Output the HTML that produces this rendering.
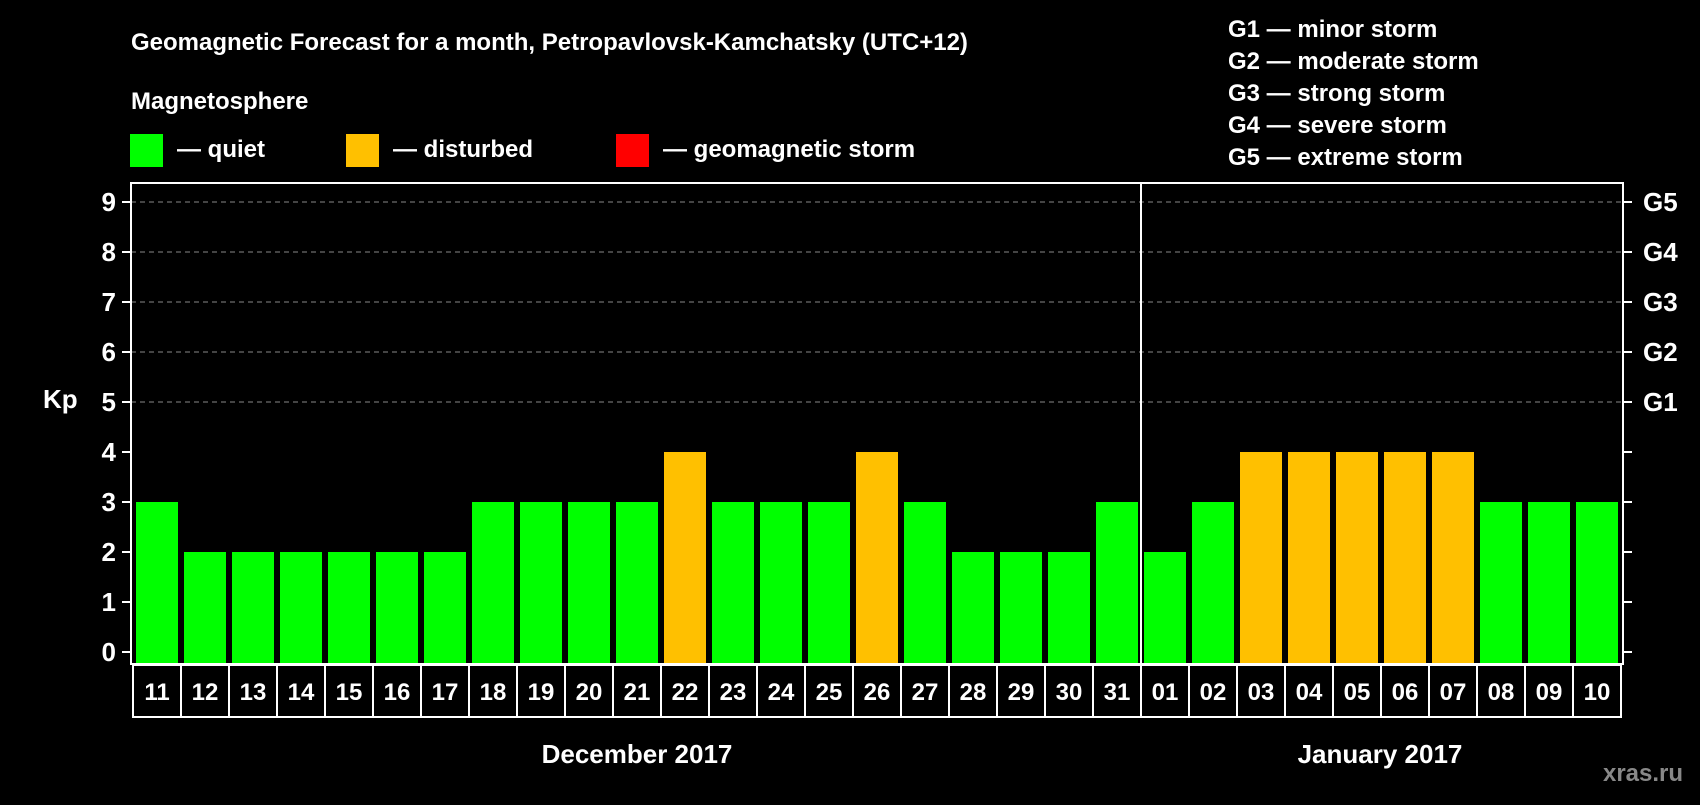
<!DOCTYPE html>
<html><head><meta charset="utf-8"><style>
body{margin:0;background:#000;width:1700px;height:800px;overflow:hidden}
svg text{font-family:"Liberation Sans",Arial,sans-serif;font-weight:bold;fill:#fff}
</style></head><body>
<svg id="c" width="1700" height="800">
<text x="131" y="50" font-size="24">Geomagnetic Forecast for a month, Petropavlovsk-Kamchatsky (UTC+12)</text>
<text x="131" y="109" font-size="24">Magnetosphere</text>
<g><rect x="130" y="134" width="33" height="33" fill="#00ff00"/><text x="177" y="157" font-size="24">— quiet</text></g>
<g><rect x="346" y="134" width="33" height="33" fill="#ffc000"/><text x="393" y="157" font-size="24">— disturbed</text></g>
<g><rect x="616" y="134" width="33" height="33" fill="#ff0000"/><text x="663" y="157" font-size="24">— geomagnetic storm</text></g>
<g font-size="24">
<text x="1228" y="37">G1 — minor storm</text>
<text x="1228" y="69">G2 — moderate storm</text>
<text x="1228" y="101">G3 — strong storm</text>
<text x="1228" y="133">G4 — severe storm</text>
<text x="1228" y="165">G5 — extreme storm</text>
</g>
<text x="43" y="408" font-size="26">Kp</text>
<g id="plot"></g>
<text x="637" y="763" font-size="26" text-anchor="middle">December 2017</text>
<text x="1380" y="763" font-size="26" text-anchor="middle">January 2017</text>
<text x="1643" y="781" font-size="24" text-anchor="middle" style="fill:#888">xras.ru</text>
</svg>
<script>
const days=["11","12","13","14","15","16","17","18","19","20","21","22","23","24","25","26","27","28","29","30","31","01","02","03","04","05","06","07","08","09","10"];
const kp=[3,2,2,2,2,2,2,3,3,3,3,4,3,3,3,4,3,2,2,2,3,2,3,4,4,4,4,4,3,3,3];
const yTicks=[0,1,2,3,4,5,6,7,8,9];
const gLabels=["G1","G2","G3","G4","G5"];
const gLevels=[5,6,7,8,9];
const NS="http://www.w3.org/2000/svg";
const g=document.getElementById('plot');
const L=131,R=1623,T=183,B=664,x0=133,slot=(1621-133)/days.length;
const y=v=>652-v*50;
const xs=i=>x0+i*slot;
function mk(t,a){const e=document.createElementNS(NS,t);for(const k in a)e.setAttribute(k,a[k]);g.appendChild(e);return e;}
gLevels.forEach(v=>{const e=mk('line',{x1:L,x2:R,y1:y(v),y2:y(v),stroke:'#888','stroke-dasharray':'5,4','stroke-width':1});

});
yTicks.forEach(v=>{
const t=mk('line',{x1:L-9,x2:L,y1:y(v),y2:y(v),stroke:'#fff','stroke-width':2});


const t2=mk('line',{x1:R,x2:R+9,y1:y(v),y2:y(v),stroke:'#fff','stroke-width':2});


const l=mk('text',{x:L-15,y:y(v)+9,'font-size':26,'text-anchor':'end'});l.textContent=v;

});
gLabels.forEach((s,i)=>{const l=mk('text',{x:R+20,y:y(gLevels[i])+9,'font-size':26});l.textContent=s;

});
kp.forEach((v,i)=>{const c=v>=5?'#ff0000':v>=4?'#ffc000':'#00ff00';
const b=mk('rect',{x:xs(i)+3,y:y(v),width:slot-6,height:y(0)+12-y(v),fill:c});


const cell=mk('rect',{x:xs(i),y:B+1,width:slot,height:52,fill:'none',stroke:'#fff','stroke-width':2});


const l=mk('text',{x:xs(i)+slot/2,y:B+36,'font-size':24,'text-anchor':'middle'});l.textContent=days[i];

});
const fr=mk('rect',{x:L,y:T,width:R-L,height:B-T,fill:'none',stroke:'#fff','stroke-width':2});


const dv=mk('line',{x1:xs(21),x2:xs(21),y1:T,y2:B,stroke:'#fff','stroke-width':2});


</script>
</body></html>
